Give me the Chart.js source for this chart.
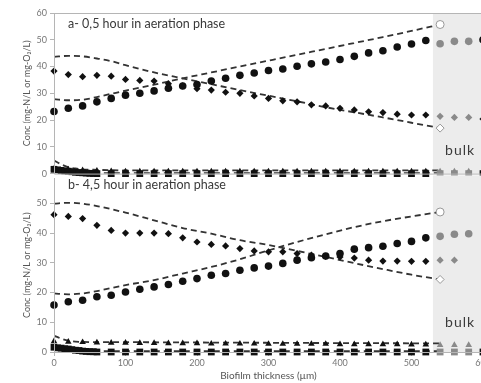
<!DOCTYPE html>
<html>
<head>
<meta charset="utf-8">
<script src="https://cdn.jsdelivr.net/npm/chart.js@4.4.1/dist/chart.umd.min.js"></script>
<style>
  html, body { margin: 0; padding: 0; background: #fff; overflow: hidden; width: 481px; height: 383px; }
  canvas { position: absolute; left: 0; }
  #chartA { top: 0; }
  #chartB { top: 170px; }
</style>
</head>
<body>
<canvas id="chartA" width="500" height="182"></canvas>
<canvas id="chartB" width="500" height="213"></canvas>
<script>
// sampling positions in the biofilm (um)
const thickness = [0,20,40,60,80,100,120,140,160,180,200,220,240,260,280,300,320,340,360,380,400,420,440,460,480,500,520];
const squareX = [0,5,10,15,20,25,30,35,40,45,50,55,60,80,100,120,140,160,180,200,220,240,260,280,300,320,340,360,380,400,420,440,460,480,500,520];
const bulkX = [540,560,580,600];
const bulkStart = 530;

// panel a - 0,5 hour
const aNO3 = [23.2,24.4,25.3,26.8,28.1,29.3,30.0,30.9,31.9,32.7,33.3,34.6,35.6,36.7,37.6,38.5,39.1,40.1,41.0,41.7,42.6,43.8,45.1,45.9,47.3,48.4,49.7];
const aNH4 = [38.3,37.0,36.2,36.7,36.4,35.2,34.8,34.6,33.6,32.8,31.7,31.2,30.4,30.0,29.0,28.1,27.2,26.8,25.7,25.3,24.4,23.8,23.1,22.8,22.2,21.9,21.9];
const aO2 = [1.8,1.5,1.2,1.0,0.9,0.8,0.8,0.8,0.8,0.8,0.8,0.8,0.8,0.8,0.8,0.8,0.8,0.8,0.8,0.8,0.8,0.8,0.8,0.8,0.8,0.8,0.8];
const aNO2 = [1.6,1.4,1.2,1.0,0.9,0.7,0.5,0.4,0.3,0.2,0.1,0.05,0,0,0,0,0,0,0,0,0,0,0,0,0,0,0,0,0,0,0,0,0,0,0,0];
const aBulkNO3 = [48.5,49.4,49.4,50.0];
const aBulkNH4 = [21.4,21.0,21.0,20.4];
const aBulkO2 = [0.8,0.8,0.8,0.8];
const aBulkNO2 = [0,0,0,0];
const aModelX = [0,20,40,60,80,100,140,180,220,260,300,340,380,420,460,500,540];
const aModelNH4 = [43.6,44.0,43.8,43.0,42.0,40.5,37.8,35.6,33.4,31.2,29.1,27.0,24.8,22.9,21.0,19.0,17.0];
const aModelNO3 = [27.8,27.4,27.6,28.6,29.8,31.0,33.2,35.6,37.8,40.0,42.2,44.4,46.6,48.8,51.0,53.3,55.7];
const lowX = [0,10,20,30,40,60,100,200,300,400,540];
const aModelO2 = [4.9,3.5,2.4,1.9,1.6,1.4,1.2,1.2,1.2,1.2,1.2];
const aModelNO2 = [1.4,1.1,0.8,0.6,0.4,0.2,0.2,0.2,0.2,0.2,0.2];

// panel b - 4,5 hour
const bNO3 = [15.8,16.9,17.4,18.6,19.1,20.2,21.1,21.9,22.7,23.8,24.7,25.8,26.4,27.5,28.3,28.9,29.8,30.9,31.7,32.3,33.1,34.6,35.1,35.6,36.5,37.2,38.4];
const bNH4 = [46.2,45.6,44.9,42.6,40.9,40.0,40.0,40.0,39.8,38.4,37.0,36.2,35.7,34.8,34.0,33.7,33.7,33.1,32.6,32.2,32.0,31.6,30.9,30.6,30.6,30.5,30.5];
const bO2 = [3.6,3.4,3.3,3.2,3.1,3.1,3.0,3.0,2.9,2.9,2.9,2.8,2.8,2.8,2.8,2.7,2.7,2.7,2.7,2.7,2.6,2.6,2.6,2.6,2.6,2.5,2.5];
const bNO2 = [1.6,1.4,1.3,1.1,1.0,0.8,0.6,0.5,0.3,0.2,0.1,0.1,0,0,0,0,0,0,0,0,0,0,0,0,0,0,0,0,0,0,0,0,0,0,0,0];
const bBulkNO3 = [38.9,39.6,39.8];
const bBulkNH4 = [30.9,30.9];
const bBulkO2 = [2.3,2.3,2.3];
const bBulkNO2 = [0,0,0,0];
const bModelX = [0,20,40,60,100,140,180,220,260,300,340,380,420,460,500,540];
const bModelNH4 = [49.9,50.2,49.9,49.1,46.9,44.3,41.7,39.8,37.6,36.0,34.0,32.0,29.9,27.9,26.0,24.4];
const bModelNO3 = [19.7,19.4,19.7,20.5,22.5,24.2,26.4,28.6,31.2,34.2,37.0,39.6,42.0,44.0,45.6,47.1];
const bModelO2 = [5.5,4.5,3.8,3.5,3.4,3.3,3.3,3.2,3.1,3.0,2.9];
const bModelNO2 = [1.6,1.3,1.0,0.7,0.5,0.3,0.3,0.3,0.3,0.3,0.3];

const yTitle = "Conc (mg-N/L or mg-O\u2082/L)";
const fontName = "Lato, 'Open Sans', sans-serif";
const black = "#111";
const grey = "#8a8a8a";

function pts(xs, ys) {
  return ys.map((y, i) => ({ x: xs[i], y: y }));
}

function markers(xs, ys, style, radius, color) {
  return {
    data: pts(xs, ys),
    showLine: false,
    clip: false,
    pointStyle: style,
    pointRadius: radius,
    pointBackgroundColor: color,
    pointBorderColor: color,
    pointBorderWidth: 0,
    order: 1
  };
}

function model(xs, ys) {
  return {
    data: pts(xs, ys),
    showLine: true,
    borderColor: "#333",
    borderWidth: 1.8,
    borderDash: [6, 4],
    pointRadius: 0,
    cubicInterpolationMode: "monotone",
    order: 3
  };
}

function hollow(x, y, style) {
  return {
    data: [{ x: x, y: y }],
    showLine: false,
    clip: false,
    pointStyle: style,
    pointRadius: 4,
    pointBackgroundColor: "#fff",
    pointBorderColor: "#999",
    pointBorderWidth: 1,
    order: 0
  };
}

function bulkColors(n) {
  // last point at 600 um is drawn dark
  return bulkX.slice(0, n).map((x) => (x === 600 ? black : grey));
}

const panelDecor = {
  id: "panelDecor",
  beforeDatasetsDraw(chart, args, opts) {
    const { ctx, chartArea, scales } = chart;
    const left = scales.x.getPixelForValue(bulkStart);
    ctx.save();
    ctx.fillStyle = "#ececec";
    ctx.fillRect(left, chartArea.top - opts.shadeUp, chartArea.right - left, chartArea.bottom - chartArea.top + opts.shadeUp);
    ctx.restore();
  },
  afterDatasetsDraw(chart, args, opts) {
    const { ctx, chartArea, scales } = chart;
    const l = chartArea.left + 0.5, r = chartArea.right + 0.5;
    const t = chartArea.top + 0.5, b = chartArea.bottom + 0.5;
    ctx.save();
    ctx.strokeStyle = "#b5b5b5";
    ctx.lineWidth = 1;
    ctx.beginPath();
    if (opts.frameTop) {
      ctx.moveTo(l, t);
      ctx.lineTo(r, t);
    }
    ctx.moveTo(r, t);
    ctx.lineTo(r, b);
    ctx.lineTo(l, b);
    ctx.lineTo(l, t);
    ctx.stroke();
    ctx.fillStyle = "#3a3a3a";
    ctx.font = "12.5px " + fontName;
    ctx.textBaseline = "middle";
    ctx.fillText(opts.label, chartArea.left + 14, chartArea.top + opts.labelDy);
    ctx.font = "14px " + fontName;
    ctx.letterSpacing = "1px";
    ctx.textAlign = "center";
    ctx.fillText("bulk", scales.x.getPixelForValue(568), scales.y.getPixelForValue(opts.bulkY));
    ctx.restore();
  }
};

function makePanel(canvasId, datasets, yMax, showX, decor) {
  const tickFont = { family: fontName, size: 9 };
  return new Chart(document.getElementById(canvasId), {
    type: "scatter",
    data: { datasets: datasets },
    options: {
      responsive: false,
      animation: false,
      layout: { padding: showX ? { top: 8, right: 17, bottom: 0, left: 0 } : { top: 13, right: 17, bottom: 7, left: 0 } },
      plugins: { legend: { display: false }, tooltip: { enabled: false }, panelDecor: decor },
      scales: {
        x: {
          type: "linear",
          min: 0,
          max: 600,
          display: showX,
          afterFit: (scale) => { scale.height = showX ? 31 : 0; },
          ticks: { stepSize: 100, color: "#777", font: tickFont, padding: 2, maxRotation: 0 },
          grid: { drawOnChartArea: false, drawTicks: true, tickLength: 4, color: "#b5b5b5" },
          border: { display: true, color: "#b5b5b5" },
          title: { display: true, text: "Biofilm thickness (\u00b5m)", color: "#555", font: { family: fontName, size: 10 }, padding: { top: 0, bottom: 1 } }
        },
        y: {
          min: 0,
          max: yMax,
          afterFit: (scale) => { scale.width = 54; },
          afterBuildTicks: (scale) => { scale.ticks = scale.ticks.filter((t) => t.value % 10 === 0); },
          ticks: { stepSize: 10, color: "#777", font: tickFont, padding: 3 },
          grid: { drawOnChartArea: false, drawTicks: true, tickLength: 4, color: "#b5b5b5" },
          border: { display: true, color: "#b5b5b5" },
          title: { display: true, text: yTitle, color: "#555", font: { family: fontName, size: 9 }, padding: { top: 22, bottom: 0 } }
        }
      }
    },
    plugins: [panelDecor]
  });
}

makePanel("chartA", [
  hollow(540, aModelNO3[aModelNO3.length - 1], "circle"),
  hollow(540, aModelNH4[aModelNH4.length - 1], "rectRot"),
  markers(thickness, aNO3, "circle", 3.8, black),
  markers(thickness, aNH4, "rectRot", 3.6, black),
  markers(thickness, aO2, "triangle", 3.8, black),
  markers(squareX, aNO2, "rect", 4.8, black),
  markers(bulkX, aBulkNO3, "circle", 3.8, bulkColors(4)),
  markers(bulkX, aBulkNH4, "rectRot", 3.6, bulkColors(4)),
  markers(bulkX, aBulkO2, "triangle", 3.8, bulkColors(4)),
  markers(bulkX, aBulkNO2, "rect", 4.8, bulkColors(4)),
  model(aModelX, aModelNH4),
  model(aModelX, aModelNO3),
  model(lowX, aModelO2),
  model(lowX, aModelNO2)
], 60, false, { label: "a- 0,5 hour in aeration phase", labelDy: 11, bulkY: 8.5, shadeUp: 0, frameTop: true });

makePanel("chartB", [
  hollow(540, bModelNO3[bModelNO3.length - 1], "circle"),
  hollow(540, bModelNH4[bModelNH4.length - 1], "rectRot"),
  markers(thickness, bNO3, "circle", 3.8, black),
  markers(thickness, bNH4, "rectRot", 3.6, black),
  markers(thickness, bO2, "triangle", 3.8, black),
  markers(squareX, bNO2, "rect", 4.8, black),
  markers(bulkX.slice(0, 3), bBulkNO3, "circle", 3.8, grey),
  markers(bulkX.slice(0, 2), bBulkNH4, "rectRot", 3.6, grey),
  markers(bulkX.slice(0, 3), bBulkO2, "triangle", 3.8, grey),
  markers(bulkX, bBulkNO2, "rect", 4.8, bulkColors(4)),
  model(bModelX, bModelNH4),
  model(bModelX, bModelNO3),
  model(lowX, bModelO2),
  model(lowX, bModelNO2)
], 58.4, true, { label: "b- 4,5 hour in aeration phase", labelDy: 7, bulkY: 10, shadeUp: 3, frameTop: false });
</script>
</body>
</html>
